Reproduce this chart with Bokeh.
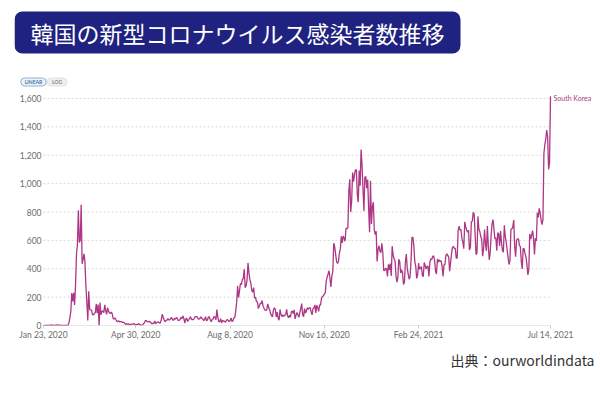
import pandas as pd
from bokeh.plotting import figure
from bokeh.models import ColumnDataSource, Range1d, FixedTicker, NumeralTickFormatter, Label, Title
from bokeh.embed import file_html
from bokeh.resources import INLINE

# ---- daily new confirmed cases, South Korea ----
jan_2020 = [1, 0, 1, 0, 0, 1, 0, 0, 4]  # from Jan 23
feb_2020 = [1, 3, 0, 0, 3, 5, 1, 3, 0, 3, 0, 0, 0, 0, 0, 1, 1, 1,
            20, 53, 100, 229, 169, 231, 144, 284, 505, 571, 813]
mar_2020 = [586, 599, 851, 435, 467, 505, 448, 273, 164, 35, 242, 114, 110, 107, 76, 74,
            84, 93, 152, 87, 147, 0, 162, 76, 100, 104, 91, 146, 105, 78, 125]
apr_2020 = [101, 89, 86, 94, 81, 47, 47, 53, 39, 27, 30, 32, 25, 27, 27, 22, 22, 18, 8, 13,
            9, 11, 8, 6, 10, 10, 10, 14, 9, 4]
may_2020 = [9, 6, 13, 8, 3, 2, 4, 12, 18, 34, 35, 27, 26, 29, 27, 19, 13, 15, 13, 32,
            12, 20, 23, 25, 16, 19, 40, 79, 58, 39, 27]
jun_2020 = [35, 38, 49, 39, 39, 51, 57, 38, 38, 50, 45, 56, 49, 34, 37, 43, 59, 49, 67, 48,
            17, 46, 51, 28, 39, 51, 62, 42, 43, 42]
jul_2020 = [51, 63, 63, 61, 48, 44, 50, 62, 50, 45, 35, 44, 62, 33, 39, 61, 60, 39, 26, 45,
            45, 63, 59, 41, 113, 58, 25, 28, 48, 18, 36]
aug_2020 = [31, 30, 23, 33, 43, 36, 28, 34, 54, 28, 34, 54, 56, 103, 166, 279, 197, 246, 297, 288,
            324, 332, 397, 266, 280, 320, 441, 371, 323, 299, 248]
sep_2020 = [235, 267, 195, 198, 168, 167, 119, 136, 156, 155, 176, 136, 121, 109, 106, 113, 153,
            126, 110, 82, 70, 61, 110, 125, 114, 61, 95, 50, 38, 113]
oct_2020 = [77, 63, 75, 64, 73, 75, 114, 69, 54, 72, 58, 97, 102, 84, 110, 47, 73, 91, 76, 58,
            91, 121, 155, 77, 61, 119, 88, 103, 125, 114, 127]
nov_2020 = [124, 97, 75, 118, 125, 145, 89, 143, 126, 100, 146, 143, 191, 205, 208, 223, 230,
            313, 343, 363, 386, 330, 271, 349, 382, 581, 555, 503, 450, 438]
dec_2020 = [451, 511, 540, 629, 583, 631, 615, 594, 686, 682, 689, 950, 1030, 800, 880, 1078,
            1014, 1064, 1097, 1097, 926, 869, 1092, 985, 1241, 1132, 970, 808, 1045, 1050, 967]
jan_2021 = [1029, 824, 657, 1020, 715, 840, 869, 674, 641, 665, 451, 537, 562, 524, 513, 580,
            520, 389, 386, 404, 400, 346, 431, 392, 437, 349, 559, 497, 469, 458, 355]
feb_2021 = [305, 336, 467, 451, 370, 393, 372, 289, 303, 444, 504, 403, 362, 326, 344, 457,
            621, 621, 561, 448, 416, 332, 356, 440, 396, 406, 415, 355]
mar_2021 = [344, 444, 424, 398, 418, 416, 346, 446, 470, 465, 488, 490, 459, 382, 363, 469,
            445, 463, 452, 456, 415, 346, 428, 430, 494, 505, 494, 482, 382, 447, 506]
apr_2021 = [551, 558, 543, 543, 473, 478, 668, 700, 671, 677, 614, 587, 542, 731, 698, 673,
            658, 672, 532, 549, 731, 735, 797, 785, 644, 500, 512, 769, 680, 661]
may_2021 = [627, 606, 488, 541, 676, 574, 525, 701, 564, 463, 511, 635, 715, 747, 681, 610,
            619, 528, 654, 646, 561, 666, 585, 530, 516, 707, 629, 587, 533, 480, 430]
jun_2021 = [459, 677, 681, 695, 744, 556, 485, 602, 610, 611, 565, 556, 452, 399, 545, 540,
            507, 482, 429, 357, 395, 645, 610, 634, 668, 614, 501, 614, 595, 794]
jul_2021 = [762, 826, 794, 743, 711, 746, 1212, 1275, 1316, 1378, 1324, 1100, 1150, 1615]

month_starts = ["2020-01-23", "2020-02-01", "2020-03-01", "2020-04-01", "2020-05-01",
                "2020-06-01", "2020-07-01", "2020-08-01", "2020-09-01", "2020-10-01",
                "2020-11-01", "2020-12-01", "2021-01-01", "2021-02-01", "2021-03-01",
                "2021-04-01", "2021-05-01", "2021-06-01", "2021-07-01"]
month_values = [jan_2020, feb_2020, mar_2020, apr_2020, may_2020, jun_2020, jul_2020,
                aug_2020, sep_2020, oct_2020, nov_2020, dec_2020, jan_2021, feb_2021,
                mar_2021, apr_2021, may_2021, jun_2021, jul_2021]

x_tick_dates = ["2020-01-23", "2020-04-30", "2020-08-08", "2020-11-16", "2021-02-24", "2021-07-14"]
x_tick_labels = ["Jan 23, 2020", "Apr 30, 2020", "Aug 8, 2020", "Nov 16, 2020",
                 "Feb 24, 2021", "Jul 14, 2021"]
y_ticks = [0, 200, 400, 600, 800, 1000, 1200, 1400, 1600]

title_text = "韓国の新型コロナウイルス感染者数推移"
series_name = "South Korea"
source_text = "出典：ourworldindata"

# ---- build data ----
dates, cases = [], []
for start, vals in zip(month_starts, month_values):
    dates.extend(pd.date_range(start, periods=len(vals), freq="D"))
    cases.extend(vals)
src = ColumnDataSource(data=dict(date=dates, cases=cases))

LINE = "#ad3784"
W, H = 600, 393
# frame covers the whole canvas except a thin left strip and the bottom axis area
FL, FR, FT, FB = 14, 0, 0, 68
# plot-area (as in the reference) inside the frame, in canvas px
PX0, PX1, PY0, PY1 = 43, 550, 98, 325  # x of first/last date, y of 1600 and 0

t0 = pd.Timestamp(x_tick_dates[0]).value / 1e6
t1 = pd.Timestamp(x_tick_dates[-1]).value / 1e6
ppm = (PX1 - PX0) / (t1 - t0)
x_start = t0 - (PX0 - FL) / ppm
x_end = t1 + (W - FR - PX1) / ppm
ppv = (PY1 - PY0) / y_ticks[-1]
y_end = (PY1 - FT) / ppv

p = figure(width=W, height=H, x_axis_type="datetime", output_backend="svg",
           toolbar_location=None, title=None,
           x_range=Range1d(x_start, x_end), y_range=Range1d(0, y_end),
           min_border_left=FL, min_border_right=FR, min_border_top=FT, min_border_bottom=FB)
p.outline_line_color = None
p.background_fill_color = "white"
p.border_fill_color = "white"
p.xgrid.visible = False
p.ygrid.visible = False

first_day = pd.Timestamp(x_tick_dates[0])
last_day = pd.Timestamp(x_tick_dates[-1])
grid_y = y_ticks[1:]
p.segment(x0=[first_day] * len(grid_y), x1=[last_day] * len(grid_y), y0=grid_y, y1=grid_y,
          line_color="#d9d9d9", line_dash="2 2", line_width=1)
p.segment(x0=[first_day], x1=[last_day], y0=[y_ticks[0]], y1=[y_ticks[0]],
          line_color="#cfcfcf", line_width=1)

p.line(x="date", y="cases", source=src, line_color=LINE, line_width=1.3)

x_ms = [pd.Timestamp(d).value / 1e6 for d in x_tick_dates]
p.xaxis.ticker = FixedTicker(ticks=x_ms, minor_ticks=[])
p.xaxis.major_label_overrides = dict(zip(x_ms, x_tick_labels))
p.xaxis.axis_line_color = None
p.xaxis.major_tick_line_color = "#cfcfcf"
p.xaxis.major_tick_out = 3
p.xaxis.major_tick_in = 0
p.xaxis.minor_tick_line_color = None
p.xaxis.major_label_standoff = 1
p.xaxis.major_label_text_font = "Lato"
p.xaxis.major_label_text_font_size = "8.5px"
p.xaxis.major_label_text_color = "#6b6b6b"

p.yaxis.ticker = FixedTicker(ticks=y_ticks, minor_ticks=[])
p.yaxis.formatter = NumeralTickFormatter(format="0,0")
p.yaxis.axis_line_color = None
p.yaxis.major_tick_line_color = None
p.yaxis.minor_tick_line_color = None
p.yaxis.major_tick_out = 0
p.yaxis.major_tick_in = 0
p.yaxis.major_label_standoff = -(PX0 - FL - 2)
p.yaxis.major_label_text_font = "Lato"
p.yaxis.major_label_text_font_size = "8.5px"
p.yaxis.major_label_text_color = "#6b6b6b"

# screen coords are relative to frame: x from frame left, y up from frame bottom
def sx(canvas_x):
    return canvas_x - FL

def sy(canvas_y):
    return (H - FB) - canvas_y

title = Label(x=sx(14), y=sy(32), x_units="screen", y_units="screen", text=title_text,
              text_font="Noto Sans CJK JP", text_font_size="23px", text_color="white",
              text_align="left", text_baseline="middle",
              background_fill_color="#1f2280", padding=(16, 4), border_radius=8)
p.add_layout(title)

btn_lin = Label(x=sx(33), y=sy(81.5), x_units="screen", y_units="screen", text="LINEAR",
                text_font="Lato", text_font_size="5px", text_font_style="bold",
                text_color="#4a6fa5", text_align="center", text_baseline="middle",
                background_fill_color="#eef3fa", border_line_color="#8fb0d8",
                padding=(4, 1), border_radius=4)
btn_log = Label(x=sx(56.5), y=sy(81.5), x_units="screen", y_units="screen", text="LOG",
                text_font="Lato", text_font_size="5px", text_font_style="bold",
                text_color="#888888", text_align="center", text_baseline="middle",
                background_fill_color="#efefef", border_line_color="#e2e2e2",
                padding=(5, 1), border_radius=4)
p.add_layout(btn_log)
p.add_layout(btn_lin)

series_label = Label(x=last_day, y=cases[-1], text=series_name, x_offset=3, y_offset=-2,
                     text_font="Lato", text_font_size="7px", text_color=LINE,
                     text_align="left", text_baseline="middle")
p.add_layout(series_label)

src_title = Title(text=source_text, align="right", offset=6, standoff=10,
                  text_font="Noto Sans CJK JP", text_font_size="14px",
                  text_font_style="normal", text_color="#333333")
p.add_layout(src_title, "below")

open("out.html", "w").write(file_html(p, INLINE))
